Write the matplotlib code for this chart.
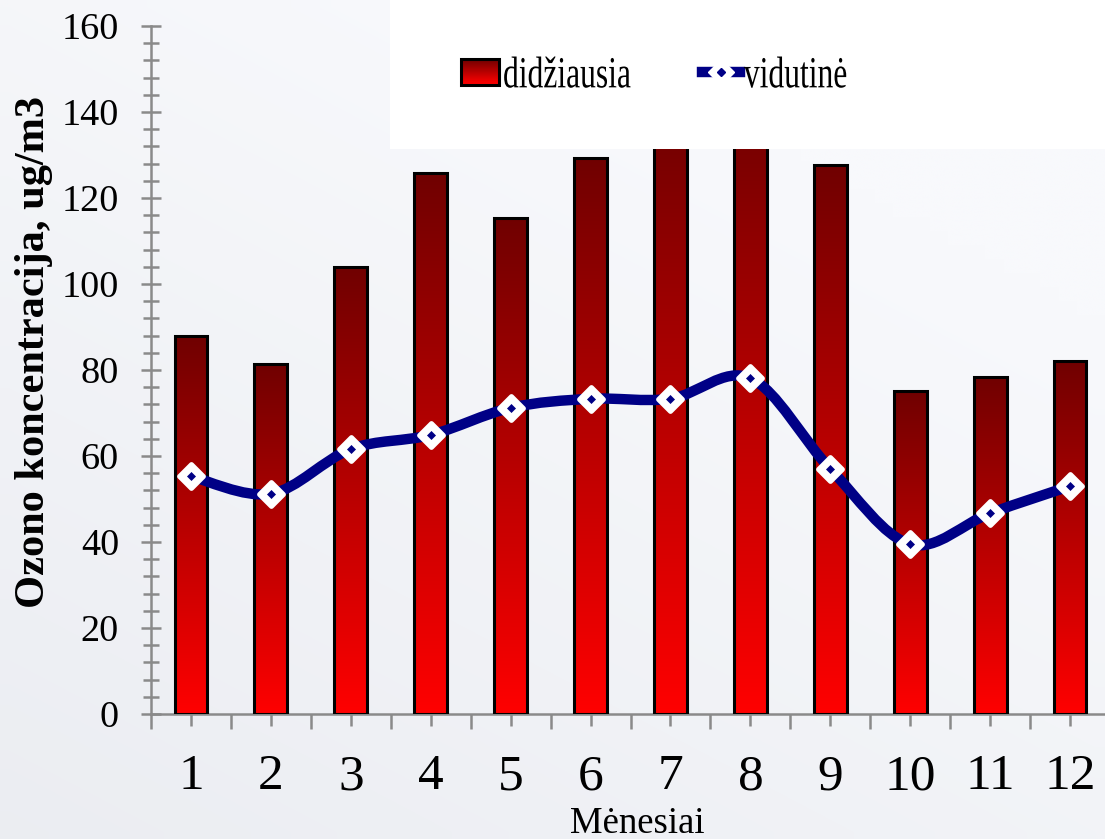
import numpy as np
import matplotlib
matplotlib.use("Agg")
import matplotlib.pyplot as plt
from matplotlib.colors import LinearSegmentedColormap
from matplotlib.patches import Rectangle, PathPatch
from matplotlib.path import Path
from matplotlib.lines import Line2D
from matplotlib.markers import MarkerStyle
from matplotlib.legend_handler import HandlerBase
from matplotlib.patheffects import AbstractPathEffect
from matplotlib.transforms import Affine2D
from matplotlib.ticker import MultipleLocator, FixedLocator

plt.rcParams['font.family'] = ['Liberation Serif', 'DejaVu Serif']

# ---- data ----
months = [1, 2, 3, 4, 5, 6, 7, 8, 9, 10, 11, 12]
month_labels = ['1', '2', '3', '4', '5', '6', '7', '8', '9', '10', '11', '12']
max_values = [87.9, 81.4, 104.0, 125.8, 115.3, 129.3, 139.0, 142.0, 127.7, 75.1, 78.4, 82.1]
mean_values = [55.3, 51.2, 61.6, 64.9, 71.2, 73.3, 73.3, 78.1, 57.0, 39.5, 46.7, 53.0]
series_names = ['didžiausia', 'vidutinė']
y_label = 'Ozono koncentracija, ug/m3'
x_label = 'Mėnesiai'

NAVY = '#000086'
AXIS_GRAY = '#8a8a8a'
BAR_TOP = '#700000'
BAR_BOTTOM = '#ff0000'
bar_cmap = LinearSegmentedColormap.from_list('bar_grad', [BAR_BOTTOM, BAR_TOP])


class Condensed(AbstractPathEffect):
    """Squeeze glyph outlines horizontally about the text origin."""

    def __init__(self, sx):
        super().__init__()
        self._sx = sx

    def draw_path(self, renderer, gc, tpath, affine, rgbFace=None):
        renderer.draw_path(gc, tpath, Affine2D().scale(self._sx, 1.0) + affine, rgbFace)


fig = plt.figure(figsize=(11.05, 8.39), dpi=100)

# soft backdrop: lighter top-right, slightly greyer toward bottom-left
bg_ax = fig.add_axes([0, 0, 1, 1], zorder=-10)
u = np.linspace(0, 1, 60)[None, :]
v = np.linspace(0, 1, 60)[:, None]
shade = np.clip(0.65 * (1 - v) + 0.45 * (1 - u) - 0.25, 0, 1)
top_c = np.array([248, 249, 252]) / 255
low_c = np.array([233, 235, 240]) / 255
bg = top_c[None, None, :] * (1 - shade[..., None]) + low_c[None, None, :] * shade[..., None]
bg_ax.imshow(bg, extent=[0, 1, 0, 1], origin='lower', aspect='auto', interpolation='bilinear')
bg_ax.set_axis_off()

ax = fig.add_axes([0.13665, 0.14899, 0.8679, 0.82002], zorder=1)
ax.patch.set_visible(False)

bar_w = 0.41
bars = ax.bar(months, max_values, width=bar_w, facecolor='none',
              edgecolor='black', linewidth=2.2, zorder=3)
grad = np.linspace(0, 1, 256)[:, None]
for rect, val in zip(bars, max_values):
    x0 = rect.get_x()
    im = ax.imshow(grad, extent=[x0, x0 + bar_w, 0, val], origin='lower',
                   aspect='auto', cmap=bar_cmap, zorder=2, interpolation='bilinear')
    im.set_clip_path(rect)

# smoothed mean line (cubic Bezier segments through each monthly value)
pts = np.column_stack([months, mean_values]).astype(float)
verts = [tuple(pts[0])]
codes = [Path.MOVETO]
n = len(pts)
for i in range(n - 1):
    p_prev = pts[i - 1] if i > 0 else pts[i]
    p0, p1 = pts[i], pts[i + 1]
    p_next = pts[i + 2] if i + 2 < n else pts[i + 1]
    c1 = p0 + (p1 - p_prev) / 6.0
    c2 = p1 - (p_next - p0) / 6.0
    verts += [tuple(c1), tuple(c2), tuple(p1)]
    codes += [Path.CURVE4] * 3
ax.add_patch(PathPatch(Path(verts, codes), fill=False, edgecolor=NAVY, lw=7.5,
                       capstyle='round', joinstyle='round', zorder=4))
ax.plot(months, mean_values, linestyle='none',
        marker=MarkerStyle('D', joinstyle='round'), ms=12.5, mfc='white',
        mec='white', mew=3.5, zorder=5)
ax.plot(months, mean_values, linestyle='none', marker='D', ms=4,
        mfc=NAVY, mec=NAVY, mew=0.5, zorder=6)

ax.set_xlim(0.5, 12.5)
ax.set_ylim(0, 160)

for side in ('top', 'right'):
    ax.spines[side].set_visible(False)
for side in ('left', 'bottom'):
    ax.spines[side].set_color(AXIS_GRAY)
    ax.spines[side].set_linewidth(1.8)

ax.yaxis.set_major_locator(MultipleLocator(20))
ax.yaxis.set_minor_locator(MultipleLocator(4))
ax.tick_params(axis='y', which='major', direction='inout', length=14, width=1.8,
               color=AXIS_GRAY, labelsize=27.5, pad=16)
ax.tick_params(axis='y', which='minor', direction='inout', length=12, width=1.8,
               color=AXIS_GRAY)

ax.set_xticks(months, month_labels)
ax.xaxis.set_minor_locator(FixedLocator(np.arange(0.5, 13.0, 1.0)))
ax.tick_params(axis='x', which='major', direction='inout', length=17, width=1.8,
               color=AXIS_GRAY, labelsize=37, pad=20)
ax.tick_params(axis='x', which='minor', direction='out', length=11, width=1.8,
               color=AXIS_GRAY)

fig.text(0.031, 0.5805, y_label, rotation=90, ha='center', va='center',
         fontsize=30.5, fontweight='bold')
fig.text(0.577, 0.018, x_label, ha='center', va='center', fontsize=26.5)

# white legend panel over the top-right of the plot
fig.add_artist(Rectangle((0.353, 0.8224), 0.66, 0.18, transform=fig.transFigure,
                         facecolor='white', edgecolor='none', zorder=5))


class GradientBoxHandler(HandlerBase):
    def create_artists(self, legend, orig_handle, xdescent, ydescent, width,
                       height, fontsize, trans):
        arts = []
        steps = 24
        for i in range(steps):
            c = bar_cmap(i / (steps - 1))
            arts.append(Rectangle((-xdescent, -ydescent + height * i / steps),
                                  width, height / steps * 1.05, facecolor=c,
                                  edgecolor='none', transform=trans))
        arts.append(Rectangle((-xdescent, -ydescent), width, height, fill=False,
                              edgecolor='black', lw=2.2, transform=trans))
        return arts


class MarkedLineHandler(HandlerBase):
    def create_artists(self, legend, orig_handle, xdescent, ydescent, width,
                       height, fontsize, trans):
        y = -ydescent + height / 2
        x0, x1 = -xdescent, -xdescent + width
        xm = (x0 + x1) / 2
        line = Line2D([x0, x1], [y, y], color=NAVY, lw=7.5, transform=trans)
        white = Line2D([xm], [y], marker='D', ms=13, mfc='white', mec='white',
                       mew=1, linestyle='none', transform=trans)
        dot = Line2D([xm], [y], marker='D', ms=3.8, mfc=NAVY, mec=NAVY,
                     linestyle='none', transform=trans)
        return [line, white, dot]


h_bar = Rectangle((0, 0), 1, 1)
h_line = Line2D([], [])
leg = fig.legend([h_bar, h_line], series_names,
                 handler_map={Rectangle: GradientBoxHandler(),
                              Line2D: MarkedLineHandler()},
                 loc='center left', bbox_to_anchor=(0.417, 0.909),
                 ncol=2, frameon=False, fontsize=32, handlelength=0.86,
                 handleheight=0.53, handletextpad=0.09, columnspacing=0.4,
                 borderpad=0, borderaxespad=0)
leg.set_zorder(6)
for t in leg.get_texts():
    t.set_path_effects([Condensed(0.71)])

fig.savefig('out.png', dpi=100)
